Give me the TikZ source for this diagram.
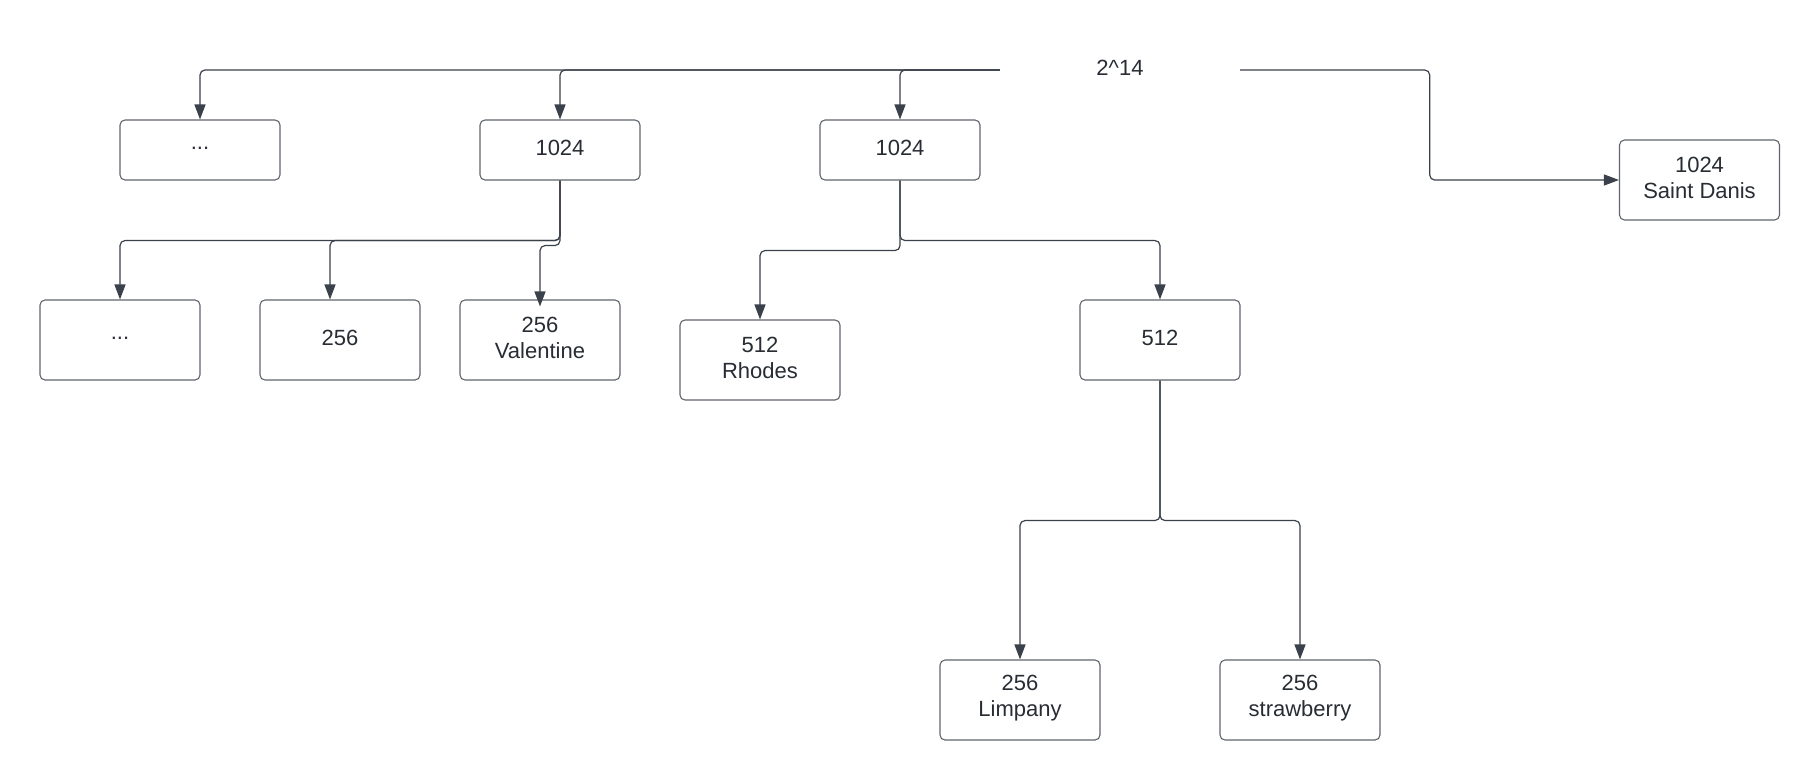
\documentclass[tikz,border=0pt]{standalone}
\usepackage{fontspec}
\setmainfont{Liberation Sans}
\usetikzlibrary{arrows.meta}
\definecolor{textc}{HTML}{282C33}
\definecolor{linec}{HTML}{3A414A}
\definecolor{boxc}{HTML}{60656D}
\begin{document}
\begin{tikzpicture}[x=1pt,y=-1pt,
  font=\fontsize{22}{26.5}\selectfont,
  every node/.style={text=textc},
  % caption placed at the centre of a node, lifted slightly
  caption/.style={label={[align=center, inner sep=0pt, yshift=2pt]center:#1}},
  box/.style={draw=boxc, line width=1.1pt, rounded corners=5pt, fill=white,
    minimum width=160pt, minimum height=80pt, inner sep=0pt},
  smallbox/.style={box, minimum height=60pt},
  conn/.style={draw=linec, line width=1.2pt, rounded corners=5pt,
    -{Triangle[length=15pt,width=11pt]}}]
  \useasboundingbox (0,0) rectangle (1820,780);

  % root label
  \node[minimum width=240pt, minimum height=40pt, inner sep=0pt,
        caption={2\textasciicircum14}] (root) at (1120,70) {};

  % first level
  \node[smallbox, caption={...}] (A) at (200,150) {};
  \node[smallbox, caption={1024}] (B) at (560,150) {};
  \node[smallbox, caption={1024}] (C) at (900,150) {};
  \node[box, caption={1024\\Saint Danis}] (D) at (1699.5,180) {};

  % second level
  \node[box, caption={...}] (E) at (120,340) {};
  \node[box, caption={256}] (F) at (340,340) {};
  \node[box, caption={256\\Valentine}] (G) at (540,340) {};
  \node[box, caption={512\\Rhodes}] (H) at (760,360) {};
  \node[box, caption={512}] (I) at (1160,340) {};

  % third level
  \node[box, caption={256\\Limpany}] (J) at (1020,700) {};
  \node[box, caption={256\\strawberry}] (K) at (1300,700) {};

  % connectors from the root
  \draw[conn] (root.west) -| (A.north);
  \draw[conn] (root.west) -| (B.north);
  \draw[conn] (root.west) -| (C.north);
  \draw[conn] (root.east) -- ++(189.5,0) |- (D.west);

  % connectors below B
  \draw[conn] (B.south) -- ++(0,60) -| (E.north);
  \draw[conn] (B.south) -- ++(0,60) -| ([xshift=-10pt]F.north);
  \draw[conn] (B.south) -- ++(0,65) -| ([yshift=-7pt]G.north);

  % connectors below C
  \draw[conn] (C.south) -- ++(0,60) -| (I.north);
  \draw[conn] (C.south) -- ++(0,70) -| (H.north);

  % connectors below I
  \draw[conn] (I.south) -- ++(0,140) -| (J.north);
  \draw[conn] (I.south) -- ++(0,140) -| (K.north);
\end{tikzpicture}
\end{document}
